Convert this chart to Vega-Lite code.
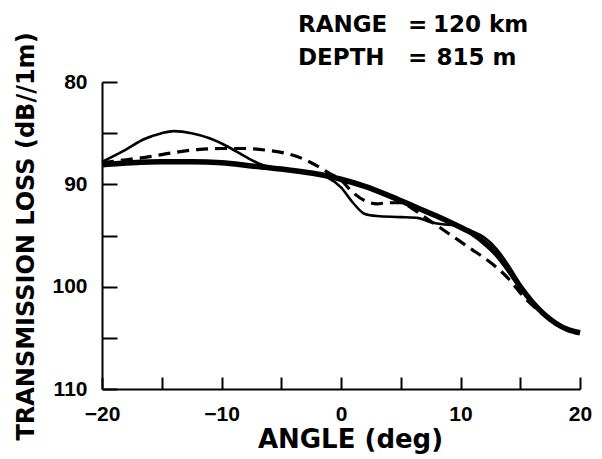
{
  "$schema": "https://vega.github.io/schema/vega-lite/v6.json",
  "autosize": "none",
  "width": 478,
  "height": 307,
  "padding": {"left": 102, "top": 82, "right": 22, "bottom": 70},
  "background": "white",
  "config": {
    "view": {"stroke": null},
    "axis": {
      "domainColor": "black",
      "domainWidth": 2,
      "tickColor": "black",
      "tickWidth": 2,
      "labelColor": "black",
      "titleColor": "black",
      "grid": false,
      "labelFont": "Liberation Sans",
      "labelFontWeight": "bold",
      "labelFontSize": 21,
      "titleFont": "DejaVu Sans",
      "titleFontWeight": "bold"
    }
  },
  "datasets": {
    "curves": [
      {"series": "thick", "angle": -20, "tl": 88.1},
      {"series": "thick", "angle": -17.5, "tl": 87.9},
      {"series": "thick", "angle": -15, "tl": 87.8},
      {"series": "thick", "angle": -12.5, "tl": 87.8},
      {"series": "thick", "angle": -10, "tl": 87.9},
      {"series": "thick", "angle": -7.5, "tl": 88.2},
      {"series": "thick", "angle": -5, "tl": 88.5},
      {"series": "thick", "angle": -2.5, "tl": 88.9},
      {"series": "thick", "angle": 0, "tl": 89.5},
      {"series": "thick", "angle": 2, "tl": 90.2},
      {"series": "thick", "angle": 4, "tl": 91.1},
      {"series": "thick", "angle": 6, "tl": 92.1},
      {"series": "thick", "angle": 8, "tl": 93.1},
      {"series": "thick", "angle": 10, "tl": 94.2},
      {"series": "thick", "angle": 11, "tl": 94.8},
      {"series": "thick", "angle": 12, "tl": 95.7},
      {"series": "thick", "angle": 13, "tl": 96.8},
      {"series": "thick", "angle": 14, "tl": 98.3},
      {"series": "thick", "angle": 15, "tl": 100.0},
      {"series": "thick", "angle": 16, "tl": 101.5},
      {"series": "thick", "angle": 17, "tl": 102.7},
      {"series": "thick", "angle": 18, "tl": 103.6},
      {"series": "thick", "angle": 19, "tl": 104.2},
      {"series": "thick", "angle": 20, "tl": 104.5},

      {"series": "thin", "angle": -20, "tl": 87.8},
      {"series": "thin", "angle": -18, "tl": 86.6},
      {"series": "thin", "angle": -16.5, "tl": 85.6},
      {"series": "thin", "angle": -15, "tl": 85.0},
      {"series": "thin", "angle": -14, "tl": 84.8},
      {"series": "thin", "angle": -12.5, "tl": 85.0},
      {"series": "thin", "angle": -11, "tl": 85.5},
      {"series": "thin", "angle": -9.5, "tl": 86.3},
      {"series": "thin", "angle": -8, "tl": 87.3},
      {"series": "thin", "angle": -7, "tl": 87.9},
      {"series": "thin", "angle": -6, "tl": 88.3},
      {"series": "thin", "angle": -5, "tl": 88.5},
      {"series": "thin", "angle": -2.5, "tl": 88.9},
      {"series": "thin", "angle": -1.2, "tl": 89.3},
      {"series": "thin", "angle": 0, "tl": 90.3},
      {"series": "thin", "angle": 1, "tl": 91.8},
      {"series": "thin", "angle": 2, "tl": 92.9},
      {"series": "thin", "angle": 3, "tl": 93.1},
      {"series": "thin", "angle": 5, "tl": 93.2},
      {"series": "thin", "angle": 6.5, "tl": 93.3},
      {"series": "thin", "angle": 7.5, "tl": 93.7},
      {"series": "thin", "angle": 8.5, "tl": 93.9},
      {"series": "thin", "angle": 9.5, "tl": 94.0},
      {"series": "thin", "angle": 10, "tl": 94.2},
      {"series": "thin", "angle": 11, "tl": 94.6},
      {"series": "thin", "angle": 12, "tl": 95.2},
      {"series": "thin", "angle": 13, "tl": 96.3},
      {"series": "thin", "angle": 14, "tl": 97.9},
      {"series": "thin", "angle": 15, "tl": 99.8},
      {"series": "thin", "angle": 16, "tl": 101.5},
      {"series": "thin", "angle": 17, "tl": 102.7},
      {"series": "thin", "angle": 18, "tl": 103.6},
      {"series": "thin", "angle": 19, "tl": 104.2},
      {"series": "thin", "angle": 20, "tl": 104.5},

      {"series": "dashed", "angle": -20, "tl": 87.9},
      {"series": "dashed", "angle": -18, "tl": 87.6},
      {"series": "dashed", "angle": -16, "tl": 87.3},
      {"series": "dashed", "angle": -14, "tl": 86.9},
      {"series": "dashed", "angle": -12, "tl": 86.6},
      {"series": "dashed", "angle": -10, "tl": 86.5},
      {"series": "dashed", "angle": -8, "tl": 86.5},
      {"series": "dashed", "angle": -6, "tl": 86.7},
      {"series": "dashed", "angle": -4.5, "tl": 87.0},
      {"series": "dashed", "angle": -3, "tl": 87.6},
      {"series": "dashed", "angle": -2, "tl": 88.2},
      {"series": "dashed", "angle": -1, "tl": 88.9},
      {"series": "dashed", "angle": 0, "tl": 89.6},
      {"series": "dashed", "angle": 1, "tl": 90.8},
      {"series": "dashed", "angle": 2, "tl": 91.6},
      {"series": "dashed", "angle": 3, "tl": 91.9},
      {"series": "dashed", "angle": 4, "tl": 91.8},
      {"series": "dashed", "angle": 5, "tl": 91.8},
      {"series": "dashed", "angle": 6, "tl": 92.4},
      {"series": "dashed", "angle": 7, "tl": 93.2},
      {"series": "dashed", "angle": 8, "tl": 94.0},
      {"series": "dashed", "angle": 9, "tl": 94.8},
      {"series": "dashed", "angle": 10, "tl": 95.6},
      {"series": "dashed", "angle": 11, "tl": 96.4},
      {"series": "dashed", "angle": 12, "tl": 97.2},
      {"series": "dashed", "angle": 13, "tl": 98.1},
      {"series": "dashed", "angle": 14, "tl": 99.2},
      {"series": "dashed", "angle": 15, "tl": 100.6},
      {"series": "dashed", "angle": 16, "tl": 101.8},
      {"series": "dashed", "angle": 17, "tl": 102.8},
      {"series": "dashed", "angle": 18, "tl": 103.6},
      {"series": "dashed", "angle": 19, "tl": 104.2},
      {"series": "dashed", "angle": 20, "tl": 104.5}
    ],
    "notes": [
      {"angle": -3.6, "tl": 75.08, "label": "RANGE"},
      {"angle": -3.6, "tl": 78.34, "label": "DEPTH"},
      {"angle": 5.6, "tl": 75.08, "label": "="},
      {"angle": 5.6, "tl": 78.34, "label": "="},
      {"angle": 7.7, "tl": 75.08, "label": "120 km"},
      {"angle": 8.0, "tl": 78.34, "label": "815 m"}
    ]
  },
  "encoding": {
    "x": {
      "field": "angle",
      "type": "quantitative",
      "scale": {"domain": [-20, 20], "nice": false, "zero": false},
      "axis": {
        "title": "ANGLE (deg)",
        "titleFontSize": 26,
        "titleX": 248,
        "titleY": 58,
        "titleAlign": "center",
        "titleBaseline": "alphabetic",
        "values": [-20, -15, -10, -5, 0, 5, 10, 15, 20],
        "labelExpr": "datum.value % 10 === 0 ? datum.label : ''",
        "labelOverlap": false,
        "labelFlush": false,
        "tickSize": -12,
        "labelPadding": 26,
        "labelBaseline": "top"
      }
    },
    "y": {
      "field": "tl",
      "type": "quantitative",
      "scale": {"domain": [80, 110], "reverse": true, "nice": false, "zero": false},
      "axis": {
        "title": "TRANSMISSION LOSS (dB//1m)",
        "titleFontSize": 24,
        "titleAngle": -90,
        "titleX": -69,
        "titleY": 154,
        "titleAlign": "center",
        "titleBaseline": "alphabetic",
        "values": [80, 85, 90, 95, 100, 105, 110],
        "labelExpr": "datum.value % 10 === 0 ? datum.label : ''",
        "labelOverlap": false,
        "labelFlush": false,
        "tickSize": -15,
        "labelPadding": 30,
        "labelBaseline": "middle"
      }
    }
  },
  "layer": [
    {
      "data": {"name": "curves"},
      "transform": [{"filter": "datum.series === 'dashed'"}],
      "mark": {"type": "line", "color": "black", "interpolate": "monotone", "strokeWidth": 3.2, "strokeDash": [12, 7]},
      "encoding": {}
    },
    {
      "data": {"name": "curves"},
      "transform": [{"filter": "datum.series === 'thin'"}],
      "mark": {"type": "line", "color": "black", "interpolate": "monotone", "strokeWidth": 2.6},
      "encoding": {}
    },
    {
      "data": {"name": "curves"},
      "transform": [{"filter": "datum.series === 'thick'"}],
      "mark": {"type": "line", "color": "black", "interpolate": "monotone", "strokeWidth": 5.5},
      "encoding": {}
    },
    {
      "data": {"name": "notes"},
      "mark": {
        "type": "text",
        "align": "left",
        "baseline": "alphabetic",
        "font": "DejaVu Sans",
        "fontWeight": "bold",
        "fontSize": 23,
        "color": "black"
      },
      "encoding": {
        "text": {"field": "label", "type": "nominal"}
      }
    }
  ]
}
